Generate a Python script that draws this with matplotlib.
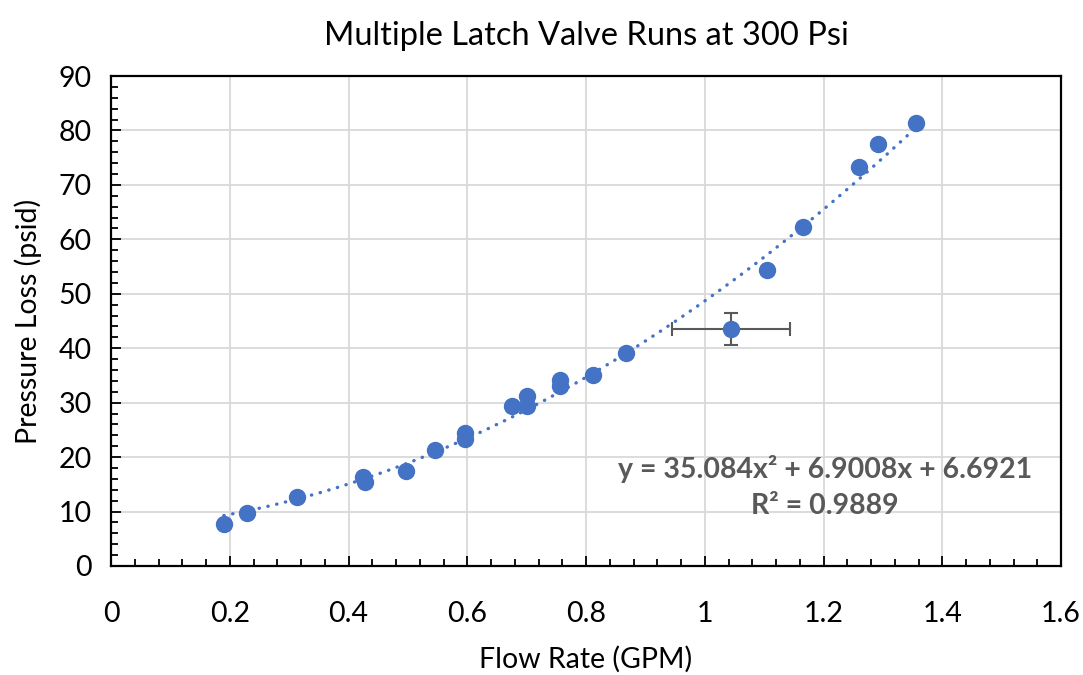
import numpy as np
import matplotlib
matplotlib.use("Agg")
import matplotlib.pyplot as plt
from matplotlib.ticker import MultipleLocator, FormatStrFormatter

# flow rate (GPM) and pressure loss (psid)
flow = [0.190, 0.229, 0.313, 0.425, 0.428, 0.496, 0.546, 0.597, 0.597,
        0.675, 0.701, 0.701, 0.756, 0.756, 0.811, 0.867, 1.044, 1.104,
        1.165, 1.259, 1.291, 1.355]
loss = [7.7, 9.7, 12.6, 16.4, 15.5, 17.4, 21.3, 24.4, 23.3,
        29.3, 31.3, 29.3, 34.2, 33.1, 35.1, 39.1, 43.5, 54.4,
        62.2, 73.3, 77.6, 81.4]

# the one run with error bars
err_x = [1.044]
err_y = [43.5]
err_dx = [0.1]
err_dy = [2.9]

trend_coef = [35.084, 6.9008, 6.6921]
eq_text = "y = 35.084x² + 6.9008x + 6.6921\nR² = 0.9889"

blue = "#4472C4"
plt.rcParams['font.family'] = ['Lato', 'DejaVu Sans']

fig = plt.figure(figsize=(10.83, 6.75), dpi=100)
ax = fig.add_axes([0.1025, 0.1615, 0.8772, 0.7259])

ax.errorbar(err_x, err_y, xerr=err_dx, yerr=err_dy, fmt='none',
            ecolor="#595959", elinewidth=1.5, capsize=5, capthick=1.5, zorder=2)
ax.plot(flow, loss, 'o', color=blue, markersize=11.5, zorder=3)

xs = np.linspace(min(flow), max(flow), 200)
ax.plot(xs, np.polyval(trend_coef, xs), color=blue, linewidth=2.4,
        linestyle=(0, (0.1, 2.6)), dash_capstyle='round', zorder=2.5)

ax.text(1.2025, 14.5, eq_text, ha='center', va='center', fontsize=20.5,
        fontweight='bold', color="#595959", linespacing=1.5)

ax.set_xlim(0, 1.6)
ax.set_ylim(0, 90)
ax.xaxis.set_major_locator(MultipleLocator(0.2))
ax.xaxis.set_minor_locator(MultipleLocator(0.04))
ax.yaxis.set_major_locator(MultipleLocator(10))
ax.yaxis.set_minor_locator(MultipleLocator(2))
ax.xaxis.set_major_formatter(FormatStrFormatter('%g'))

ax.grid(True, which='major', color="#D9D9D9", linewidth=1.3, zorder=0)
ax.set_axisbelow(True)
ax.tick_params(which='both', direction='in', color='black', width=1.3,
               labelsize=20.5)
ax.tick_params(which='major', length=7)
ax.tick_params(which='minor', length=5)
ax.tick_params(axis='x', pad=25)
ax.tick_params(axis='y', pad=14)
for s in ax.spines.values():
    s.set_color('black')
    s.set_linewidth(1.6)

ax.set_title("Multiple Latch Valve Runs at 300 Psi", fontsize=23.5, pad=22)
ax.set_xlabel("Flow Rate (GPM)", fontsize=20.5, labelpad=14)
ax.set_ylabel("Pressure Loss (psid)", fontsize=20.5, labelpad=12)

fig.savefig("out.png", dpi=100)
